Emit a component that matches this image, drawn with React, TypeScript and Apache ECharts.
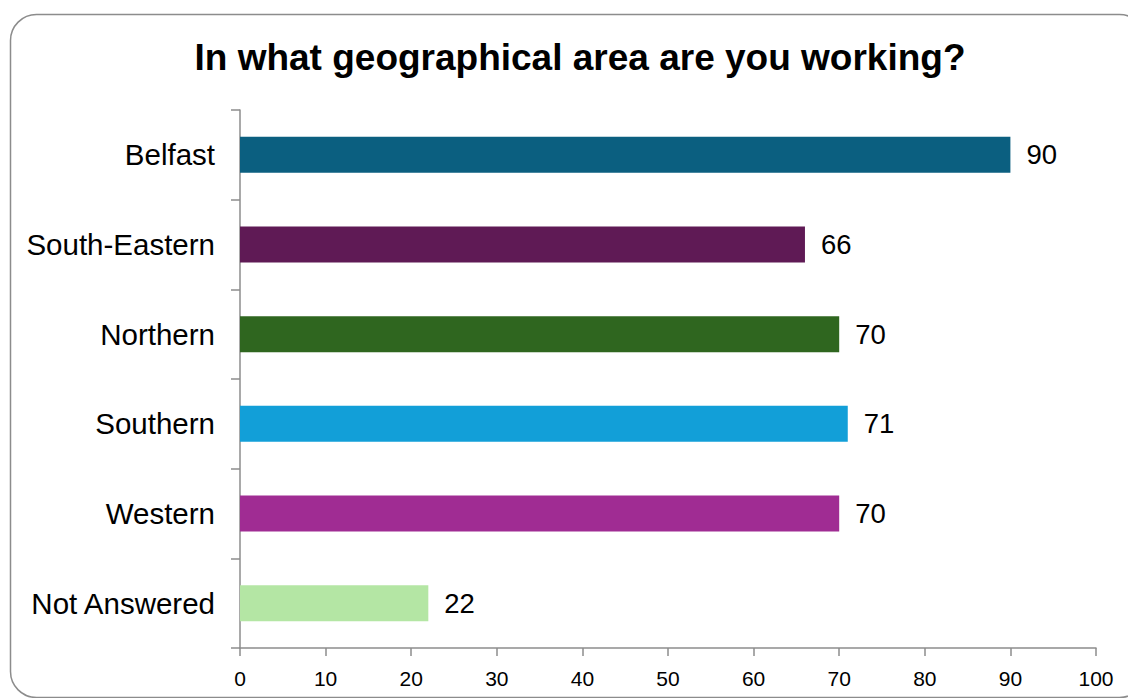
import React, { useEffect, useRef } from "react";
import * as echarts from "echarts";

const titleText = "In what geographical area are you working?";
const categories = ["Belfast", "South-Eastern", "Northern", "Southern", "Western", "Not Answered"];
const values = [90, 66, 70, 71, 70, 22];
const barColors = ["#0b5f80", "#5f1a55", "#2f661f", "#129fd8", "#a02c93", "#b4e6a4"];
const axisMin = 0;
const axisMax = 100;
const axisInterval = 10;

const FONT = "'Liberation Sans', Arial, sans-serif";

export default function App() {
  const ref = useRef<HTMLDivElement>(null);
  useEffect(() => {
    if (!ref.current) return;
    const chart = echarts.init(ref.current, undefined, { renderer: "svg" });
    chart.setOption({
      animation: false,
      backgroundColor: "#ffffff",
      graphic: [
        {
          type: "rect",
          shape: { x: 10.5, y: 14.5, width: 1135, height: 683, r: 26 },
          style: { fill: "none", stroke: "#8c8c8c", lineWidth: 1.5 },
          z: -1,
        },
      ],
      title: {
        text: titleText,
        left: 575,
        textAlign: "center",
        top: 34,
        textStyle: { fontFamily: FONT, fontSize: 37, fontWeight: "bold", color: "#000" },
      },
      grid: { left: 240, right: 32, top: 110, bottom: 50, containLabel: false },
      xAxis: {
        type: "value",
        min: axisMin,
        max: axisMax,
        interval: axisInterval,
        splitLine: { show: false },
        axisLine: { show: true, lineStyle: { color: "#8c8c8c", width: 1.5 } },
        axisTick: { show: true, length: 8, lineStyle: { color: "#8c8c8c", width: 1.5 } },
        axisLabel: { fontFamily: FONT, fontSize: 21, color: "#000", margin: 20 },
      },
      yAxis: {
        type: "category",
        data: categories,
        inverse: true,
        axisLine: { show: true, lineStyle: { color: "#8c8c8c", width: 1.5 } },
        axisTick: { show: true, length: 9, alignWithLabel: false, lineStyle: { color: "#8c8c8c", width: 1.5 } },
        axisLabel: { fontFamily: FONT, fontSize: 29.5, color: "#000", margin: 25 },
      },
      series: [
        {
          type: "bar",
          barWidth: 36,
          data: values.map((v, i) => ({ value: v, itemStyle: { color: barColors[i] } })),
          label: {
            show: true,
            position: "right",
            distance: 16,
            fontFamily: FONT,
            fontSize: 27.5,
            color: "#000",
          },
        },
      ],
    });
    return () => chart.dispose();
  }, []);
  return (
    <div
      ref={ref}
      style={{ position: "absolute", left: 0, top: 0, width: 1128, height: 698 }}
    />
  );
}
